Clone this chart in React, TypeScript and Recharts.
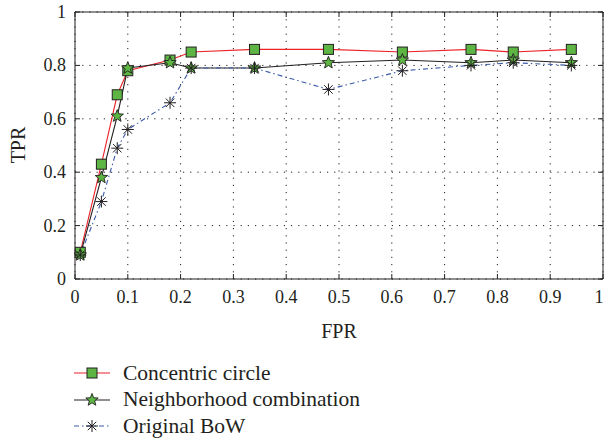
import React from "react";
import { LineChart, Line, XAxis, YAxis, CartesianGrid } from "recharts";

// FPR positions shared by all three curves
const fpr = [0.01, 0.05, 0.08, 0.1, 0.18, 0.22, 0.34, 0.48, 0.62, 0.75, 0.83, 0.94];
const concentricTpr = [0.1, 0.43, 0.69, 0.78, 0.82, 0.85, 0.86, 0.86, 0.85, 0.86, 0.85, 0.86];
const neighborhoodTpr = [0.09, 0.38, 0.61, 0.79, 0.81, 0.79, 0.79, 0.81, 0.82, 0.81, 0.82, 0.81];
const bowTpr = [0.09, 0.29, 0.49, 0.56, 0.66, 0.79, 0.79, 0.71, 0.78, 0.8, 0.81, 0.8];

const xTicks = [0, 0.1, 0.2, 0.3, 0.4, 0.5, 0.6, 0.7, 0.8, 0.9, 1];
const yTicks = [0, 0.2, 0.4, 0.6, 0.8, 1];

const data = fpr.map((x, i) => ({
  fpr: x,
  concentric: concentricTpr[i],
  neighborhood: neighborhoodTpr[i],
  bow: bowTpr[i],
}));

const W = 605;
const H = 440;
const MARGIN = { top: 11, right: 1, left: 74, bottom: 160 };
// plot box (axis boxes are 1px wide/high)
const PLOT_W = W - MARGIN.left - MARGIN.right - 2;
const PLOT_H = H - MARGIN.top - MARGIN.bottom - 2;

const FONT = '"Liberation Serif", "Times New Roman", serif';
const INK = "#231f20";
const GREEN = "#5db543";
const RED = "#ec2227";
const BLUE = "#3b5ba9";

function SquareMark({ cx, cy }: { cx: number; cy: number }) {
  return (
    <rect x={cx - 5} y={cy - 5} width={10} height={10} fill={GREEN} stroke={INK} strokeWidth={1} />
  );
}

function StarMark({ cx, cy }: { cx: number; cy: number }) {
  const pts: string[] = [];
  for (let k = 0; k < 10; k++) {
    const r = k % 2 === 0 ? 6.5 : 2.8;
    const a = -Math.PI / 2 + (k * Math.PI) / 5;
    pts.push(`${cx + r * Math.cos(a)},${cy + r * Math.sin(a)}`);
  }
  return <polygon points={pts.join(" ")} fill={GREEN} stroke={INK} strokeWidth={0.9} />;
}

function AsteriskMark({ cx, cy }: { cx: number; cy: number }) {
  const arms = [0, 45, 90, 135].map((deg) => {
    const a = (deg * Math.PI) / 180;
    const dx = 6 * Math.cos(a);
    const dy = 6 * Math.sin(a);
    return <line key={deg} x1={cx - dx} y1={cy - dy} x2={cx + dx} y2={cy + dy} stroke={INK} strokeWidth={1} />;
  });
  return <g>{arms}</g>;
}

const dotOf = (Mark: any) => (props: any) =>
  props.cx == null ? null : (
    <g key={`d-${props.index}`}>
      <Mark cx={props.cx} cy={props.cy} />
    </g>
  );

const labelStyle = { fontFamily: FONT, fontSize: 18 };

// inward tick marks on bottom and top, label below
const BottomTick = ({ x, y, payload }: any) => (
  <g>
    <line x1={x} y1={y} x2={x} y2={y - 5} stroke={INK} />
    <line x1={x} y1={y - PLOT_H} x2={x} y2={y - PLOT_H + 5} stroke={INK} />
    <text x={payload.value === 1 ? x - 4 : x} y={y + 24} textAnchor="middle" style={labelStyle} fill={INK}>
      {payload.value}
    </text>
  </g>
);

// inward tick marks on left and right, label to the left
const LeftTick = ({ x, y, payload }: any) => (
  <g>
    <line x1={x} y1={y} x2={x + 5} y2={y} stroke={INK} />
    <line x1={x + PLOT_W} y1={y} x2={x + PLOT_W - 5} y2={y} stroke={INK} />
    <text x={x - 9} y={y + 6} textAnchor="end" style={labelStyle} fill={INK}>
      {payload.value}
    </text>
  </g>
);

const legendItems = [
  { label: "Concentric circle", color: RED, dash: undefined, Mark: SquareMark },
  { label: "Neighborhood combination", color: INK, dash: undefined, Mark: StarMark },
  { label: "Original BoW", color: BLUE, dash: "5 3 1.5 3", Mark: AsteriskMark },
];

export default function App() {
  return (
    <div style={{ position: "absolute", left: 0, top: 0, width: W, height: H, background: "#fff" }}>
      <LineChart width={W} height={H} data={data} margin={MARGIN}>
        <CartesianGrid stroke={INK} strokeDasharray="1.2 6" strokeWidth={1} />
        <XAxis
          dataKey="fpr"
          type="number"
          domain={[0, 1]}
          ticks={xTicks}
          height={1}
          tickSize={0}
          tickMargin={0}
          tickLine={false}
          axisLine={{ stroke: INK }}
          tick={BottomTick}
          interval={0}
        />
        <XAxis
          xAxisId="top"
          orientation="top"
          type="number"
          domain={[0, 1]}
          height={1}
          tick={false}
          tickLine={false}
          axisLine={{ stroke: INK }}
        />
        <YAxis
          type="number"
          domain={[0, 1]}
          ticks={yTicks}
          width={1}
          tickSize={0}
          tickMargin={0}
          tickLine={false}
          axisLine={{ stroke: INK }}
          tick={LeftTick}
          interval={0}
        />
        <YAxis
          yAxisId="right"
          orientation="right"
          type="number"
          domain={[0, 1]}
          width={1}
          tick={false}
          tickLine={false}
          axisLine={{ stroke: INK }}
        />
        <Line
          dataKey="concentric"
          stroke={RED}
          strokeWidth={1.1}
          dot={dotOf(SquareMark)}
          activeDot={false}
          isAnimationActive={false}
        />
        <Line
          dataKey="neighborhood"
          stroke={INK}
          strokeWidth={1.1}
          dot={dotOf(StarMark)}
          activeDot={false}
          isAnimationActive={false}
        />
        <Line
          dataKey="bow"
          stroke={BLUE}
          strokeWidth={1.1}
          strokeDasharray="5 3 1.5 3"
          dot={dotOf(AsteriskMark)}
          activeDot={false}
          isAnimationActive={false}
        />
      </LineChart>
      <div style={{ position: "absolute", left: 70, top: 360, fontFamily: FONT, fontSize: 21.5, color: INK }}>
        {legendItems.map((it) => (
          <div key={it.label} style={{ display: "flex", alignItems: "center", height: 26.5, whiteSpace: "nowrap" }}>
            <svg width={53} height={20} style={{ display: "block" }}>
              <line x1={4} y1={10} x2={40} y2={10} stroke={it.color} strokeWidth={1.2} strokeDasharray={it.dash} />
              <it.Mark cx={22} cy={10} />
            </svg>
            <span>{it.label}</span>
          </div>
        ))}
      </div>
      <div
        style={{
          position: "absolute",
          left: 18,
          top: 145,
          transform: "translate(-50%, -50%) rotate(-90deg)",
          fontFamily: FONT,
          fontSize: 20,
          color: INK,
          whiteSpace: "nowrap",
        }}
      >
        TPR
      </div>
      <div
        style={{
          position: "absolute",
          left: 339,
          top: 331,
          transform: "translate(-50%, -50%)",
          fontFamily: FONT,
          fontSize: 20,
          color: INK,
          whiteSpace: "nowrap",
        }}
      >
        FPR
      </div>
    </div>
  );
}
